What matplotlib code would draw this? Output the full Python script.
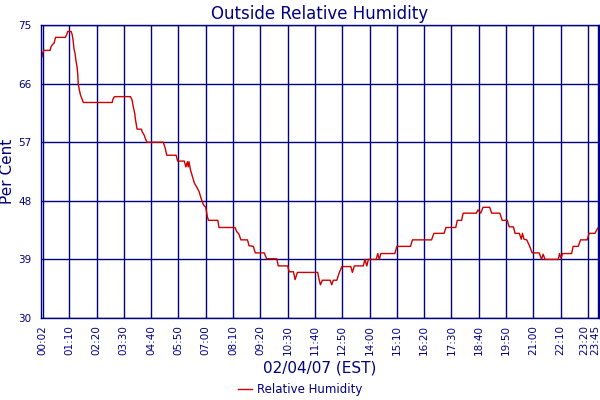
import matplotlib
matplotlib.use("Agg")
import matplotlib.pyplot as plt
from matplotlib.transforms import ScaledTranslation

# minutes after midnight, 02/04/07
minutes = [0, 1, 5, 21, 23, 27, 31, 35, 60, 64, 66, 75, 78, 80, 82, 85, 87, 90, 92, 93,
           96, 99, 103, 106, 180, 182, 186, 227, 231, 234, 238, 240, 244, 255, 257, 262,
           265, 269, 311, 316, 320, 344, 348, 365, 369, 373, 375, 377, 381, 386, 391, 397,
           403, 408, 414, 420, 424, 427, 451, 454, 495, 499, 505, 510, 527, 531, 542, 547,
           570, 576, 602, 606, 630, 634, 645, 649, 655, 707, 710, 714, 719, 739, 743, 747,
           756, 762, 769, 792, 796, 801, 824, 828, 833, 837, 857, 861, 865, 869, 905, 910,
           945, 950, 999, 1005, 1031, 1036, 1061, 1065, 1076, 1080, 1114, 1118, 1125, 1131,
           1148, 1153, 1174, 1180, 1193, 1198, 1209, 1213, 1224, 1229, 1232, 1236, 1243,
           1250, 1257, 1275, 1281, 1285, 1290, 1324, 1327, 1331, 1335, 1358, 1362, 1375,
           1381, 1398, 1403, 1418, 1425]
humidity = [70.1, 70.6, 71.1, 71.1, 71.6, 72.0, 72.2, 73.1, 73.1, 73.6, 74.0, 74.0, 73.4,
            72.6, 71.4, 70.6, 69.6, 68.6, 67.3, 66.0, 65.0, 64.2, 63.6, 63.1, 63.1, 63.6,
            64.0, 64.0, 63.5, 62.5, 61.4, 60.4, 59.0, 59.0, 58.6, 58.1, 57.6, 57.0, 57.0,
            56.1, 55.0, 55.0, 54.1, 54.1, 53.2, 54.0, 53.2, 54.0, 52.7, 51.7, 50.7, 50.1,
            49.4, 48.4, 47.4, 47.0, 45.6, 45.0, 45.0, 43.9, 43.9, 43.3, 42.9, 42.0, 42.0,
            41.1, 41.0, 40.0, 40.0, 39.1, 39.1, 38.0, 38.0, 37.1, 37.1, 35.9, 37.0, 37.0,
            36.1, 35.1, 35.8, 35.8, 35.1, 35.8, 35.8, 36.9, 37.9, 37.9, 37.0, 38.0, 38.0,
            39.0, 38.0, 39.0, 39.0, 39.9, 39.0, 39.9, 39.9, 41.0, 41.0, 42.0, 42.0, 43.0,
            43.0, 43.9, 43.9, 45.0, 45.0, 46.1, 46.1, 46.6, 46.1, 47.0, 47.0, 46.1, 46.1,
            45.0, 45.0, 44.0, 44.0, 43.0, 43.0, 42.1, 43.0, 42.1, 42.0, 41.1, 40.0, 40.0,
            39.0, 39.8, 39.0, 39.0, 39.9, 39.2, 39.9, 39.9, 41.0, 41.0, 42.0, 42.0, 43.0,
            43.0, 43.8]

tick_minutes = [2, 70, 140, 210, 280, 350, 420, 490, 560, 630, 700, 770, 840, 910, 980,
                1050, 1120, 1190, 1260, 1330, 1400, 1425]
tick_labels = ["00:02", "01:10", "02:20", "03:30", "04:40", "05:50", "07:00", "08:10",
               "09:20", "10:30", "11:40", "12:50", "14:00", "15:10", "16:20", "17:30",
               "18:40", "19:50", "21:00", "22:10", "23:20", "23:45"]
y_ticks = [30, 39, 48, 57, 66, 75]

navy = "#000080"

fig = plt.figure(figsize=(6, 4), dpi=100)
ax = fig.add_axes([41 / 600, 1 - 318 / 400, 558 / 600, 293 / 400])

ax.plot(minutes, humidity, color="#cc0000", lw=1.0, label="Relative Humidity")

ax.set_xlim(-2.4, 1428.3)
ax.set_ylim(30, 75)
ax.set_xticks(tick_minutes)
ax.set_xticklabels(tick_labels, rotation=90)
ax.set_yticks(y_ticks)
ax.tick_params(axis="both", colors=navy, labelsize=7.5, length=0)
ax.tick_params(axis="x", pad=5)
ax.tick_params(axis="y", pad=7)
ax.grid(True, color=navy, lw=1.0)
ax.set_axisbelow(True)
for s in ax.spines.values():
    s.set_color(navy)
    s.set_linewidth(1.0)

# the last two labels crowd the right edge, pull them apart a bit
xlabels = ax.get_xticklabels()
for lbl, dx in [(xlabels[-2], -0.035), (xlabels[-1], -0.02)]:
    lbl.set_transform(lbl.get_transform() + ScaledTranslation(dx, 0, fig.dpi_scale_trans))

ax.set_title("Outside Relative Humidity", color=navy, fontsize=12, pad=4)
ax.set_ylabel("Per Cent", color=navy, fontsize=11)
ax.yaxis.set_label_coords(-0.046, 0.5)
ax.set_xlabel("02/04/07 (EST)", color=navy, fontsize=11, labelpad=4)

fig.legend(loc="center", bbox_to_anchor=(0.5, 0.025), frameon=False,
           fontsize=8.5, labelcolor=navy, handlelength=1.2, handletextpad=0.4)

fig.savefig("out.png", dpi=100)
